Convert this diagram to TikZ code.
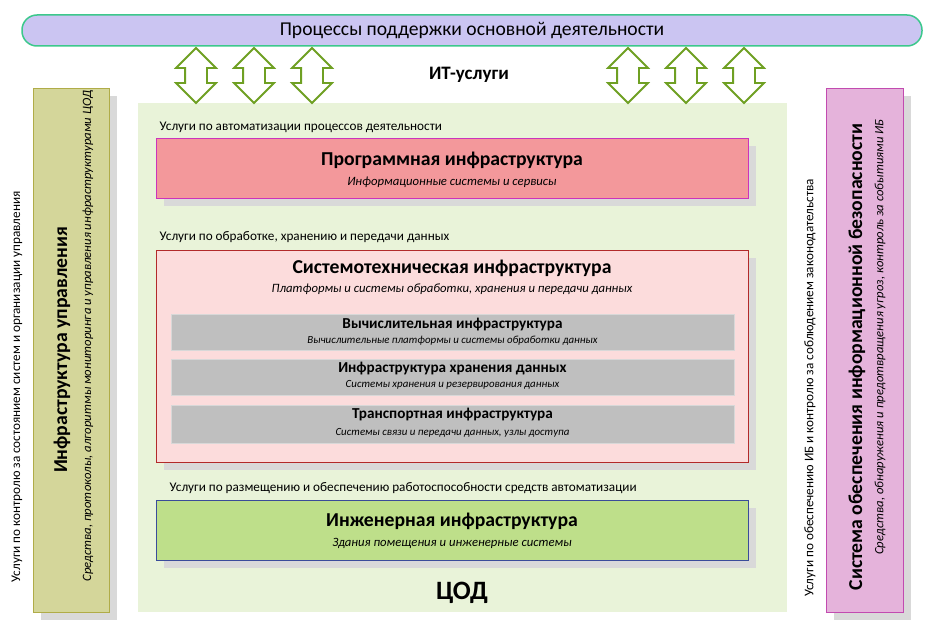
\documentclass[tikz,border=0pt]{standalone}
\usepackage{fontspec}
\setmainfont{Carlito}
\usetikzlibrary{positioning,shapes.arrows,shadows}

\definecolor{procfill}{HTML}{CBC5F2}
\definecolor{procline}{HTML}{3CC88C}
\definecolor{itarrow}{HTML}{6FA023}
\definecolor{codfill}{HTML}{E9F3D9}
\definecolor{progfill}{HTML}{F3989B}
\definecolor{progline}{HTML}{CC33BB}
\definecolor{sysfill}{HTML}{FCDCDC}
\definecolor{sysline}{HTML}{B22A2A}
\definecolor{subfill}{HTML}{BFBFBF}
\definecolor{subline}{HTML}{D8D8D8}
\definecolor{engfill}{HTML}{BEDF8A}
\definecolor{engline}{HTML}{3A4C9A}
\definecolor{mgmtfill}{HTML}{D4D69A}
\definecolor{mgmtline}{HTML}{B0AC48}
\definecolor{secfill}{HTML}{E5B3DB}
\definecolor{secline}{HTML}{C24BB0}
\definecolor{shadowgray}{HTML}{D9D9D9}

\begin{document}
\begin{tikzpicture}[
  x=1pt, y=-1pt,
  shade8/.style={drop shadow={shadow xshift=8pt, shadow yshift=-8pt, fill=shadowgray, opacity=1}},
  layer/.style={draw, line width=1pt, minimum width=592pt, inner sep=0pt, shade8},
  subbox/.style={draw=subline, line width=1pt, fill=subfill, minimum width=563pt, minimum height=36pt, inner sep=0pt},
  sidebox/.style={draw, line width=1pt, minimum width=76pt, minimum height=524pt, inner sep=0pt, shade8},
  dblarrow/.style={double arrow, draw=itarrow, line width=1.8pt, fill=white, rotate=90,
    minimum height=55pt, inner xsep=0pt, inner ysep=10pt, double arrow head extend=9pt},
  svc/.style={font=\fontsize{13.2}{15}\selectfont, inner sep=0pt},
  title/.style={font=\fontsize{19.7}{22}\selectfont\bfseries, inner sep=0pt},
  subtitle/.style={font=\fontsize{12.7}{14}\selectfont\itshape, inner sep=0pt},
  subtitlesm/.style={font=\fontsize{15.2}{17}\selectfont\bfseries, inner sep=0pt},
  subsm/.style={font=\fontsize{10.9}{12}\selectfont\itshape, inner sep=0pt}
]
\useasboundingbox (0,0) rectangle (937,634);

% Processes banner
\node[draw=procline, line width=1.5pt, fill=procfill, rounded corners=15pt,
  minimum width=900pt, minimum height=31pt, font=\fontsize{19.6}{22}\selectfont] (proc) at (472,30.5)
  {Процессы поддержки основной деятельности};

% Data center area
\node[fill=codfill, minimum width=649pt, minimum height=509pt, inner sep=0pt] (cod) at (462.5,357.5) {};

% IT services arrows
\foreach \ax [count=\i] in {196,254,312,628,686,744}
  \node[dblarrow] (it\i) at (\ax,75.5) {};
\node[font=\fontsize{19}{22}\selectfont\bfseries] (itsvc) at (469,75) {ИТ-услуги};

% Software layer
\node[layer, draw=progline, fill=progfill, minimum height=60pt] (prog) at (452,168) {};
\node[svc, anchor=south west] (svcprog) at ([xshift=4pt,yshift=5pt]prog.north west)
  {Услуги по автоматизации процессов деятельности};
\node[title] (progtitle) at (452,160) {Программная инфраструктура};
\node[subtitle] (progsub) at (452,182) {Информационные системы и сервисы};

% System engineering layer
\node[layer, draw=sysline, fill=sysfill, minimum height=212pt] (sys) at (452,356) {};
\node[svc, anchor=south west] (svcsys) at ([xshift=4pt,yshift=7pt]sys.north west)
  {Услуги по обработке, хранению и передачи данных};
\node[title] (systitle) at (452,268) {Системотехническая инфраструктура};
\node[subtitle] (syssub) at (452,289) {Платформы и системы обработки, хранения и передачи данных};

\node[subbox] (comp) at (452.5,332) {};
\node[subbox, below=8pt of comp] (stor) {};
\node[subbox, below=9pt of stor, minimum height=38pt] (trans) {};
\node[subtitlesm] (comptitle) at ([yshift=7pt]comp.center) {Вычислительная инфраструктура};
\node[subsm] (compsub) at ([yshift=-9pt]comp.center) {Вычислительные платформы и системы обработки данных};
\node[subtitlesm] (stortitle) at ([yshift=8.5pt]stor.center) {Инфраструктура хранения данных};
\node[subsm] (storsub) at ([yshift=-8pt]stor.center) {Системы хранения и резервирования данных};
\node[subtitlesm] (transtitle) at ([yshift=9.5pt]trans.center) {Транспортная инфраструктура};
\node[subsm] (transsub) at ([yshift=-9pt]trans.center) {Системы связи и  передачи данных, узлы доступа};

% Engineering layer
\node[layer, draw=engline, fill=engfill, minimum height=60pt] (eng) at (452,530) {};
\node[svc, anchor=south west] (svceng) at ([xshift=14pt,yshift=6pt]eng.north west)
  {Услуги по размещению и обеспечению работоспособности средств автоматизации};
\node[title] (engtitle) at (452,521) {Инженерная инфраструктура};
\node[subtitle] (engsub) at (452,543) {Здания помещения и инженерные системы};

\node[font=\fontsize{26.5}{30}\selectfont\bfseries] (codname) at (462,593) {ЦОД};

% Management infrastructure
\node[sidebox, draw=mgmtline, fill=mgmtfill] (mgmt) at (71,350) {};
\node[title, rotate=90] (mgmttitle) at (62,350) {Инфраструктура управления};
\node[subtitle, rotate=90] (mgmtsub) at (88,336)
  {Средства, протоколы, алгоритмы мониторинга и управления инфраструктурами ЦОД};
\node[svc, rotate=90] (svcmgmt) at (17,387)
  {Услуги по контролю за состоянием систем и организации управления};

% Information security
\node[sidebox, draw=secline, fill=secfill, minimum width=77pt] (sec) at (864.5,350) {};
\node[title, rotate=90] (sectitle) at (857,357) {Система обеспечения информационной безопасности};
\node[subtitle, rotate=90] (secsub) at (880,337)
  {Средства, обнаружения и  предотвращения угроз, контроль за событиями ИБ};
\node[svc, rotate=90] (svcsec) at (810,388)
  {Услуги по обеспечению ИБ и контролю за соблюдением законодательства};

\end{tikzpicture}
\end{document}
